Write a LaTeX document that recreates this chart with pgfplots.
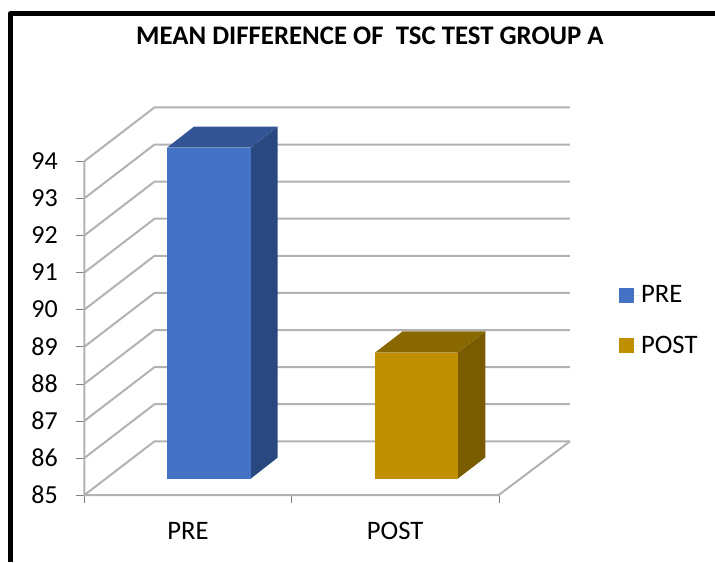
\documentclass[border=0pt]{standalone}
\usepackage{fontspec}
\setmainfont{Carlito}
\usepackage{pgfplots}
\pgfplotsset{compat=1.18}
\definecolor{prefront}{HTML}{4472C4}
\definecolor{preside}{HTML}{2A4880}
\definecolor{pretop}{HTML}{335596}
\definecolor{postfront}{HTML}{BF8F00}
\definecolor{postside}{HTML}{7A5C00}
\definecolor{posttop}{HTML}{8A6800}
\definecolor{gridgray}{HTML}{B2B2B2}

\begin{document}
\begin{tikzpicture}
  % page is 715x562 px at 0.75pt per px, origin bottom left
  \path[use as bounding box] (0pt,0pt) rectangle (536.25pt,421.5pt);
  \draw[black, line width=3.9pt, line join=round] (7.8pt,0pt) -- (7.8pt,411.5pt) -- (536.25pt,411.5pt);
  \begin{axis}[
    at={(63.375pt,50.25pt)}, anchor=south west,
    scale only axis, width=364.1pt, height=291pt,
    xmin=0, xmax=2.344, ymin=85, ymax=95.458,
    clip=false,
    axis line style={draw=none},
    xtick pos=bottom, ytick pos=left,
    tick align=outside,
    xtick={0.5,1.5}, xticklabels={PRE,POST},
    minor xtick={0,1,2},
    ytick={85,86,87,88,89,90,91,92,93,94},
    major tick length=6pt, minor tick length=6pt,
    major x tick style={draw=none},
    minor x tick style={draw=gray},
    y tick style={draw=gray},
    /pgf/number format/assume math mode=true,
    x tick label style={yshift=-11pt, font=\fontsize{20}{20}\selectfont, text=black},
    y tick label style={xshift=-10.5pt, font=\fontsize{19.5}{20}\selectfont, text=black},
    title={\bfseries MEAN DIFFERENCE OF\ \ TSC TEST GROUP A},
    title style={at={(axis description cs:0.588,1.164)}, anchor=center,
      font=\fontsize{20.1}{20}\selectfont},
    legend style={at={(axis description cs:1.101,0.54)}, anchor=north west,
      draw=none, fill=none, inner sep=0pt, outer sep=0pt,
      font=\fontsize{20}{20}\selectfont,
      row sep=23.75pt,
      nodes={inner sep=0pt, anchor=west}},
    legend image code/.code={%
      \path (0pt,0pt) -- (16.5pt,0pt);
      \fill[#1] (0pt,-5.6pt) rectangle (11.25pt,5.6pt);},
  ]
    % axis wall and floor
    \addplot[gridgray, line width=1.5pt, forget plot] coordinates {(0,94)(0,85)(2,85)(2.344,86.447)};
    % grid lines, left wall then back wall
    \addplot[gridgray, line width=1.5pt, forget plot] coordinates {(0,85)(0.338,86.447)(2.344,86.447)};
    \addplot[gridgray, line width=1.5pt, forget plot] coordinates {(0,86)(0.338,87.447)(2.344,87.447)};
    \addplot[gridgray, line width=1.5pt, forget plot] coordinates {(0,87)(0.338,88.447)(2.344,88.447)};
    \addplot[gridgray, line width=1.5pt, forget plot] coordinates {(0,88)(0.338,89.447)(2.344,89.447)};
    \addplot[gridgray, line width=1.5pt, forget plot] coordinates {(0,89)(0.338,90.447)(2.344,90.447)};
    \addplot[gridgray, line width=1.5pt, forget plot] coordinates {(0,90)(0.338,91.447)(2.344,91.447)};
    \addplot[gridgray, line width=1.5pt, forget plot] coordinates {(0,91)(0.338,92.447)(2.344,92.447)};
    \addplot[gridgray, line width=1.5pt, forget plot] coordinates {(0,92)(0.338,93.447)(2.344,93.447)};
    \addplot[gridgray, line width=1.5pt, forget plot] coordinates {(0,93)(0.338,94.447)(2.344,94.447)};
    \addplot[gridgray, line width=1.5pt, forget plot] coordinates {(0,94)(0.338,95.447)(2.344,95.447)};
    % PRE bar
    \addplot[fill=preside, draw=none, forget plot] coordinates {(0.8025,85.44)(0.933,86.01)(0.933,94.93)(0.8025,94.36)} -- cycle;
    \addplot[fill=pretop, draw=none, forget plot] coordinates {(0.398,94.36)(0.8025,94.36)(0.933,94.93)(0.5285,94.93)} -- cycle;
    \addplot[fill=prefront, draw=none] coordinates {(0.398,85.44)(0.8025,85.44)(0.8025,94.36)(0.398,94.36)} -- cycle;
    % POST bar
    \addplot[fill=postside, draw=none, forget plot] coordinates {(1.802,85.44)(1.935,86.01)(1.935,89.41)(1.802,88.84)} -- cycle;
    \addplot[fill=posttop, draw=none, forget plot] coordinates {(1.403,88.84)(1.802,88.84)(1.935,89.41)(1.536,89.41)} -- cycle;
    \addplot[fill=postfront, draw=none] coordinates {(1.403,85.44)(1.802,85.44)(1.802,88.84)(1.403,88.84)} -- cycle;
    \legend{PRE,POST}
  \end{axis}
\end{tikzpicture}
\end{document}
